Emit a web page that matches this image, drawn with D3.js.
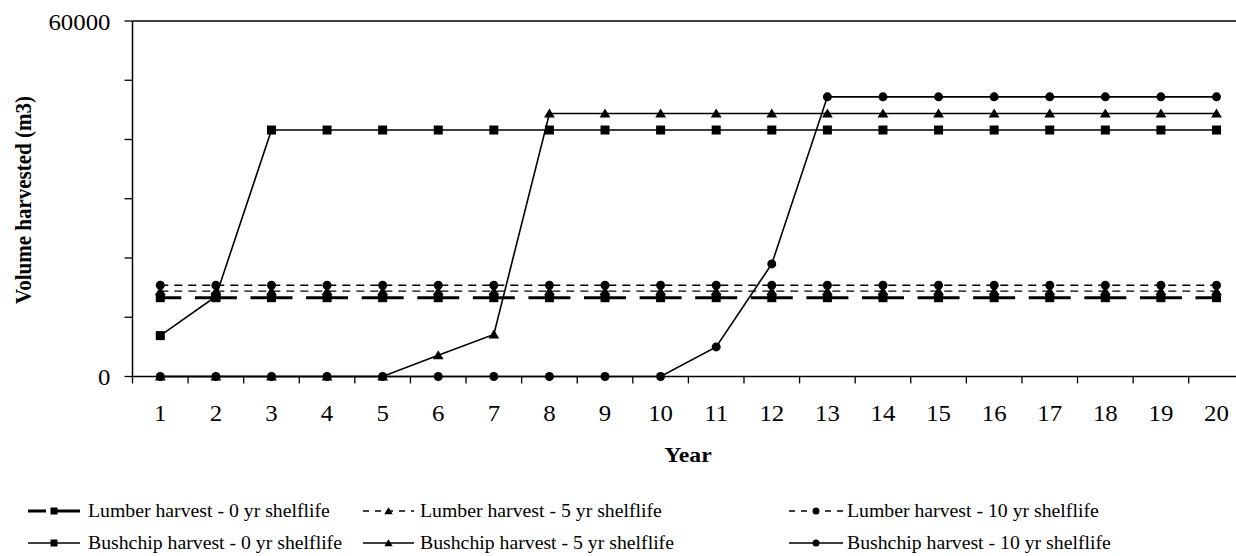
<!DOCTYPE html>
<html>
<head>
<meta charset="utf-8">
<script src="https://cdn.jsdelivr.net/npm/d3@7"></script>
<style>
  body { margin: 0; background: #fff; }
  svg { display: block; font-family: "Liberation Serif", "Times New Roman", serif; }
</style>
</head>
<body>
<svg width="1236" height="556"></svg>
<script>
const years = [1, 2, 3, 4, 5, 6, 7, 8, 9, 10, 11, 12, 13, 14, 15, 16, 17, 18, 19, 20];

const lumber0 = [13300, 13300, 13300, 13300, 13300, 13300, 13300, 13300, 13300, 13300, 13300, 13300, 13300, 13300, 13300, 13300, 13300, 13300, 13300, 13300];
const lumber5 = [14400, 14400, 14400, 14400, 14400, 14400, 14400, 14400, 14400, 14400, 14400, 14400, 14400, 14400, 14400, 14400, 14400, 14400, 14400, 14400];
const lumber10 = [15400, 15400, 15400, 15400, 15400, 15400, 15400, 15400, 15400, 15400, 15400, 15400, 15400, 15400, 15400, 15400, 15400, 15400, 15400, 15400];
const bushchip0 = [6900, 13500, 41600, 41600, 41600, 41600, 41600, 41600, 41600, 41600, 41600, 41600, 41600, 41600, 41600, 41600, 41600, 41600, 41600, 41600];
const bushchip5 = [0, 0, 0, 0, 0, 3600, 7100, 44400, 44400, 44400, 44400, 44400, 44400, 44400, 44400, 44400, 44400, 44400, 44400, 44400];
const bushchip10 = [0, 0, 0, 0, 0, 0, 0, 0, 0, 0, 5000, 19000, 47200, 47200, 47200, 47200, 47200, 47200, 47200, 47200];

const yTicks = [0, 10000, 20000, 30000, 40000, 50000, 60000];
const yLabels = [0, 60000];

const seriesNames = [
  "Lumber harvest - 0 yr shelflife",
  "Lumber harvest - 5 yr shelflife",
  "Lumber harvest - 10 yr shelflife",
  "Bushchip harvest - 0 yr shelflife",
  "Bushchip harvest - 5 yr shelflife",
  "Bushchip harvest - 10 yr shelflife"
];

const svg = d3.select("svg");

const plotL = 132.5, plotR = 1244.3, plotT = 21, plotB = 376.5;

const x = d3.scaleBand().domain(years).range([plotL, plotR]);
const y = d3.scaleLinear().domain([0, 60000]).range([plotB, plotT]);
const cx = d => x(d) + x.bandwidth() / 2;

// the reference text is drawn a little wider than the font, so stretch it
function wideText(g, tx, ty, str, size, anchor, weight, sx) {
  return g.append("text")
    .attr("transform", `translate(${tx},${ty}) scale(${sx || 1.13},1)`)
    .attr("text-anchor", anchor)
    .attr("font-size", size)
    .attr("font-weight", weight || "normal")
    .attr("fill", "#000")
    .text(str);
}

// plot border (top + right)
svg.append("path")
  .attr("d", `M${plotL},${plotT}H${plotR}V${plotB}`)
  .attr("fill", "none").attr("stroke", "#000").attr("stroke-width", 1.3);

// y axis
const axisG = svg.append("g");
axisG.append("line").attr("x1", plotL).attr("x2", plotL).attr("y1", plotT).attr("y2", plotB)
  .attr("stroke", "#000").attr("stroke-width", 1.5);
axisG.selectAll(".ytick").data(yTicks).join("line")
  .attr("x1", plotL - 8).attr("x2", plotL).attr("y1", d => y(d)).attr("y2", d => y(d))
  .attr("stroke", "#000").attr("stroke-width", 1.3);
yLabels.forEach(v => wideText(axisG, plotL - 22, y(v) + 8.5, v, 23, "end", null, 1.08));

// x axis
axisG.append("line").attr("x1", plotL).attr("x2", plotR).attr("y1", plotB).attr("y2", plotB)
  .attr("stroke", "#000").attr("stroke-width", 1.5);
axisG.selectAll(".xtick").data(years.concat([21])).join("line")
  .attr("x1", (d, i) => plotL + i * x.bandwidth()).attr("x2", (d, i) => plotL + i * x.bandwidth())
  .attr("y1", plotB).attr("y2", plotB + 7)
  .attr("stroke", "#000").attr("stroke-width", 1.3);
years.forEach(d => wideText(axisG, cx(d), 421, d, 23, "middle", null, 1.08));

// axis titles
wideText(svg, 688, 462, "Year", 21, "middle", "bold");
svg.append("text")
  .attr("transform", `translate(31,200) rotate(-90) scale(1,1.13)`)
  .attr("text-anchor", "middle").attr("font-size", 21).attr("font-weight", "bold")
  .text("Volume harvested (m3)");

// markers
function marker(g, shape, px, py, s) {
  if (shape === "square") {
    g.append("rect").attr("x", px - s / 2).attr("y", py - s / 2).attr("width", s).attr("height", s).attr("fill", "#000");
  } else if (shape === "triangle") {
    const w = s * 1.2, h = s;
    g.append("path")
      .attr("d", `M${px},${py - h * 0.55}L${px + w / 2},${py + h * 0.45}L${px - w / 2},${py + h * 0.45}Z`)
      .attr("fill", "#000");
  } else {
    g.append("circle").attr("cx", px).attr("cy", py).attr("r", s / 2).attr("fill", "#000");
  }
}

const bw = x.bandwidth();
const series = [
  { name: seriesNames[0], values: lumber0, shape: "square", width: 3, dash: `42,${bw - 42}`, offset: 21, legDash: "18,5,40" },
  { name: seriesNames[1], values: lumber5, shape: "triangle", width: 1.3, dash: "8,6", offset: 0, legDash: "6,6" },
  { name: seriesNames[2], values: lumber10, shape: "circle", width: 1.3, dash: "8,6", offset: 0, legDash: "6,6" },
  { name: seriesNames[3], values: bushchip0, shape: "square", width: 1.6, dash: null },
  { name: seriesNames[4], values: bushchip5, shape: "triangle", width: 1.6, dash: null },
  { name: seriesNames[5], values: bushchip10, shape: "circle", width: 1.6, dash: null }
];

const plot = svg.append("g");
series.forEach(s => {
  const pts = years.map((yr, i) => [cx(yr), y(s.values[i])]);
  plot.append("path")
    .attr("d", d3.line()(pts))
    .attr("fill", "none").attr("stroke", "#000")
    .attr("stroke-width", s.width)
    .attr("stroke-dasharray", s.dash)
    .attr("stroke-dashoffset", s.offset || 0);
});
series.forEach(s => {
  years.forEach((yr, i) => marker(plot, s.shape, cx(yr), y(s.values[i]), 9));
});

// legend
const legCols = [
  { x0: 28, x1: 80, tx: 88 },
  { x0: 363, x1: 414, tx: 420 },
  { x0: 789, x1: 843, tx: 847 }
];
const legRows = [511, 543];
const leg = svg.append("g");
series.forEach((s, i) => {
  const c = legCols[i % 3], ry = legRows[Math.floor(i / 3)];
  leg.append("line").attr("x1", c.x0).attr("x2", c.x1).attr("y1", ry).attr("y2", ry)
    .attr("stroke", "#000").attr("stroke-width", s.width)
    .attr("stroke-dasharray", s.legDash || null);
  marker(leg, s.shape, (c.x0 + c.x1) / 2, ry, 7);
  wideText(leg, c.tx, ry + 6, s.name, 19, "start", null, 1.04);
});
</script>
</body>
</html>
